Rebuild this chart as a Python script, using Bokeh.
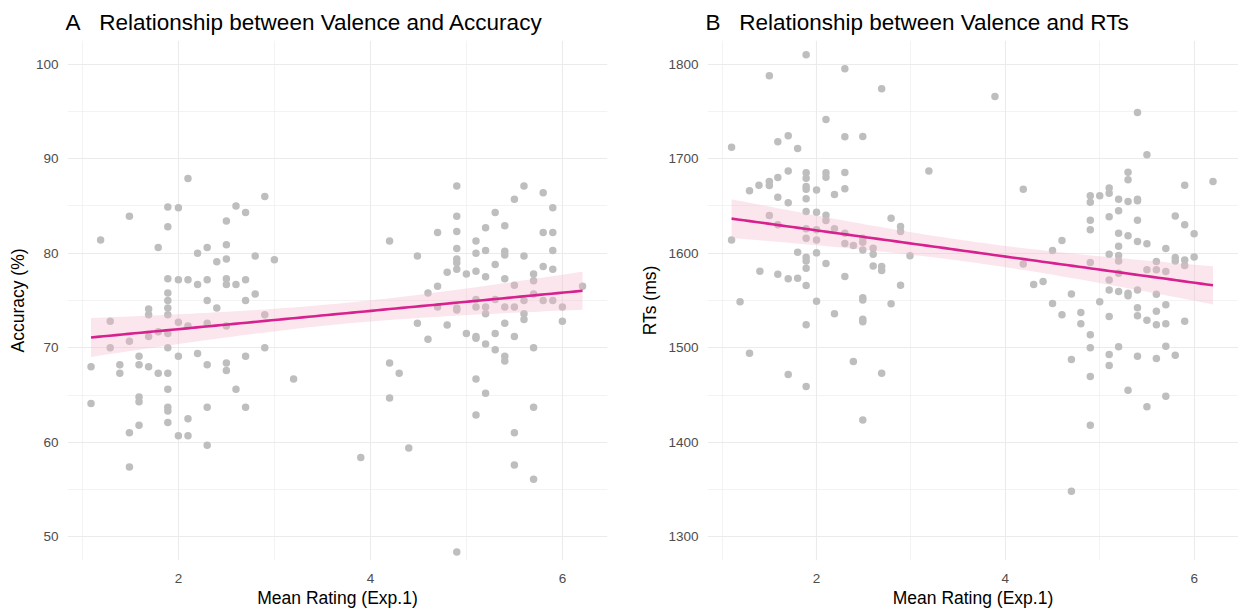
import numpy as np
from bokeh.plotting import figure
from bokeh.layouts import row
from bokeh.models import Range1d, FixedTicker
from bokeh.embed import file_html
from bokeh.resources import INLINE

# ---------------- data ----------------
acc_x = [2.10, 2.90, 1.89, 2.00, 2.60, 2.70, 1.49, 2.50, 1.89, 1.19, 1.79, 2.50, 2.30, 2.20, 2.50, 2.40,
         2.80, 3.00, 1.89, 2.00, 2.10, 2.20, 2.30, 2.50, 2.50, 2.60, 2.70,
         1.89, 1.89, 1.89, 1.89, 1.69, 1.69, 2.30, 2.40, 2.70, 2.80, 2.90, 1.29, 2.00, 2.10, 2.30, 2.50,
         1.79, 1.89, 1.69, 1.49, 1.29, 1.89, 2.90, 2.00, 2.20, 2.70, 1.09, 1.39, 1.59, 1.59, 1.69, 1.39,
         1.79, 1.89, 2.30, 2.50, 2.50, 3.20, 2.60, 1.89, 1.09, 1.59, 1.59, 1.89, 1.89, 2.30, 2.70, 2.10,
         1.89, 1.49, 1.59, 2.00, 2.10, 2.30, 1.49,
         4.90, 5.60, 5.80, 5.50, 5.90, 5.30, 4.90, 4.70, 4.90, 5.20, 5.40, 5.80, 5.90, 4.20, 5.10, 4.90,
         4.49, 5.10, 5.20, 5.40, 5.40, 5.60, 5.90, 4.90, 4.90, 4.90, 4.80, 5.00, 5.10, 5.20, 5.30, 5.80,
         5.90, 5.70, 5.70, 5.40, 5.50, 4.70, 6.21,
         4.60, 5.10, 5.30, 5.60, 5.70, 5.80, 5.90, 4.70, 4.90, 4.90, 5.10, 5.20, 5.20, 5.40, 5.50, 5.60,
         5.60, 6.00, 6.00, 4.49, 4.80, 4.60, 5.00, 5.10, 5.10, 5.20, 5.30, 5.40, 5.50, 5.30, 5.40, 5.40,
         5.70, 4.20, 4.30, 4.20, 5.10, 5.20, 5.10, 5.70, 5.50, 4.40, 3.90, 5.50, 5.70, 4.90]
acc_y = [87.9, 86.0, 84.9, 84.8, 85.0, 84.3, 83.9, 83.4, 82.8, 81.4, 80.6, 80.9, 80.6, 80.0, 79.4, 79.1,
         79.7, 79.3, 77.3, 77.2, 77.2, 76.7, 77.2, 77.3, 76.7, 76.7, 77.2,
         75.8, 75.0, 74.2, 73.5, 74.1, 73.5, 75.0, 74.2, 75.0, 75.7, 73.5, 72.8, 72.7, 72.3, 72.6, 72.3,
         71.7, 71.5, 71.2, 70.7, 70.0, 70.0, 70.0, 69.1, 69.4, 69.1, 68.0, 68.2, 69.1, 68.2, 68.0, 67.3,
         67.3, 67.3, 68.2, 68.4, 67.6, 66.7, 65.6, 65.6, 64.1, 64.8, 64.3, 63.7, 63.3, 63.7, 63.7, 62.5,
         62.1, 61.0, 61.8, 60.7, 60.7, 59.7, 57.4,
         87.1, 87.1, 86.4, 85.7, 84.8, 84.3, 83.9, 82.2, 82.3, 82.7, 82.9, 82.2, 82.2, 81.3, 81.3, 80.5,
         79.7, 80.0, 80.3, 80.2, 79.8, 79.7, 80.3, 79.4, 79.0, 78.3, 78.0, 77.8, 78.1, 77.5, 78.8, 78.6,
         78.3, 77.8, 77.1, 77.3, 76.6, 76.5, 76.5,
         75.8, 75.1, 75.1, 75.0, 75.7, 75.0, 75.0, 74.3, 74.2, 74.0, 74.3, 74.3, 73.6, 74.3, 74.3, 73.6,
         73.0, 74.3, 72.8, 72.6, 72.4, 70.9, 71.5, 71.2, 71.0, 70.4, 71.5, 72.6, 71.2, 69.8, 69.1, 68.6,
         70.0, 68.4, 67.3, 64.7, 66.7, 65.2, 62.9, 63.7, 61.0, 59.4, 58.4, 57.6, 56.1, 48.4]

rt_x = [1.89, 2.30, 1.50, 2.69, 2.10, 1.70, 1.59, 2.30, 2.49, 1.10, 1.80, 3.19, 1.70, 1.89, 1.89, 2.10,
        2.10, 2.30, 1.59, 1.50, 1.50, 1.39, 1.29, 1.89, 1.89, 2.00, 2.30, 2.19, 1.59, 1.70, 1.89, 1.89,
        2.00, 2.10, 2.10, 1.50, 1.59, 2.79, 2.89, 2.89, 1.89, 2.00, 2.19, 2.30, 1.89, 2.00, 1.10, 2.30,
        2.39, 2.49, 2.49, 2.49, 2.60, 2.60, 1.80, 2.00, 2.99, 1.89, 1.89, 2.10, 1.89, 1.40, 1.59, 2.60,
        2.69, 2.69, 1.70, 1.80, 2.30, 1.89, 2.89,
        1.19, 2.00, 2.49, 2.49, 2.79, 2.19, 1.89, 2.49, 2.49, 1.29, 2.39, 2.69, 1.70, 1.89, 2.49,
        3.89, 5.40, 5.50, 5.30, 5.30, 5.90, 6.20, 4.19, 4.90, 4.90, 5.00, 5.10, 5.10, 5.20, 5.30, 5.40,
        5.40, 5.10, 5.20, 5.40, 4.90, 4.90, 5.80, 5.90, 6.00, 5.20, 5.30, 5.40, 5.50, 5.70, 4.60, 4.50,
        5.20, 5.10, 5.20, 5.20, 5.80, 5.80, 5.90, 5.90, 6.00, 5.60, 4.19, 4.90, 5.50, 5.60, 5.70, 5.20,
        5.10, 4.30, 4.40, 5.10, 5.20, 5.30, 5.30, 5.40, 5.60, 4.70,
        4.50, 5.00, 4.60, 4.80, 4.80, 5.10, 5.40, 5.40, 5.50, 5.60, 5.60, 5.70, 5.70, 5.90, 4.90, 4.90,
        4.70, 5.10, 5.10, 5.20, 5.40, 5.60, 5.70, 5.80, 4.90, 5.30, 5.70, 5.50, 4.90, 4.70]
rt_y = [1809.9, 1795.1, 1787.7, 1773.9, 1741.5, 1724.2, 1717.8, 1723.1, 1723.5, 1712.2, 1710.8, 1687.1,
        1687.1, 1685.0, 1679.4, 1685.0, 1680.4, 1685.4, 1680.0, 1675.8, 1671.6, 1672.0, 1666.0, 1670.6,
        1667.7, 1667.0, 1668.1, 1662.1, 1659.3, 1653.3, 1657.5, 1644.1, 1643.4, 1640.2, 1634.6, 1639.9,
        1630.0, 1637.1, 1628.2, 1622.9, 1625.8, 1624.7, 1625.8, 1621.2, 1615.9, 1614.1, 1614.1, 1610.2,
        1608.1, 1615.9, 1611.7, 1603.5, 1605.3, 1599.0, 1601.1, 1600.4, 1597.2, 1595.8, 1591.9, 1589.1,
        1584.1, 1581.0, 1577.8, 1586.6, 1585.9, 1581.7, 1572.9, 1573.6, 1575.3, 1565.8, 1566.2,
        1548.6, 1549.3, 1552.8, 1550.4, 1546.5, 1535.9, 1524.3, 1530.2, 1527.4, 1494.3, 1485.5, 1473.1,
        1471.7, 1459.0, 1423.7,
        1765.8, 1748.9, 1704.1, 1685.7, 1677.6, 1672.0, 1675.8, 1667.7, 1660.7, 1654.0, 1660.7, 1669.1,
        1663.5, 1657.2, 1654.7, 1657.2, 1655.4, 1638.5, 1644.8, 1635.0, 1635.0, 1624.7, 1639.5, 1630.0,
        1620.5, 1621.2, 1618.4, 1612.4, 1609.9, 1605.0, 1613.4, 1602.8, 1607.4, 1598.9, 1597.5, 1591.9,
        1595.4, 1591.9, 1592.9, 1587.0, 1596.1, 1591.2, 1588.7, 1590.1, 1582.4, 1582.4, 1580.6, 1578.9,
        1571.8, 1566.9, 1570.0, 1561.2, 1559.5, 1557.7, 1554.9, 1561.2, 1556.6, 1556.9,
        1546.8, 1548.6, 1534.8, 1537.3, 1525.3, 1533.1, 1542.2, 1533.8, 1529.2, 1538.7, 1524.3, 1545.4,
        1525.3, 1528.1, 1513.7, 1499.9, 1487.6, 1492.9, 1481.2, 1501.0, 1491.1, 1488.6, 1501.7, 1492.2,
        1469.6, 1455.1, 1448.8, 1437.5, 1418.1, 1348.3]

x_ticks = [2, 4, 6]
x_minor = [1, 3, 5]
acc_ticks = [50, 60, 70, 80, 90, 100]
acc_minor = [55, 65, 75, 85, 95]
rt_ticks = [1300, 1400, 1500, 1600, 1700, 1800]
rt_minor = [1350, 1450, 1550, 1650, 1750]

titles = ["A\u00a0\u00a0\u00a0Relationship between Valence and Accuracy",
          "B\u00a0\u00a0\u00a0Relationship between Valence and RTs"]
x_label = "Mean Rating (Exp.1)"
y_labels = ["Accuracy (%)", "RTs (ms)"]

FONT = "Liberation Sans"
POINT = "#BEBEBE"
LINE = "#D6218E"
BAND = "#F7B6CE"


def lm_fit(x, y):
    x = np.asarray(x, float)
    y = np.asarray(y, float)
    n = len(x)
    b, a = np.polyfit(x, y, 1)
    xs = np.linspace(x.min(), x.max(), 80)
    yhat = a + b * xs
    resid = y - (a + b * x)
    s = np.sqrt(np.sum(resid ** 2) / (n - 2))
    sxx = np.sum((x - x.mean()) ** 2)
    se = s * np.sqrt(1.0 / n + (xs - x.mean()) ** 2 / sxx)
    t = 1.976
    return xs, yhat, yhat - t * se, yhat + t * se


def panel(title, xs, ys, ylabel, yr, yt, ym, width, bl, br):
    p = figure(width=width, height=610, output_backend="svg", toolbar_location=None,
               x_range=Range1d(0.845, 6.47), y_range=Range1d(*yr),
               min_border_left=bl, min_border_right=br, min_border_top=40, min_border_bottom=50)
    p.outline_line_color = None
    p.background_fill_color = "white"
    p.border_fill_color = "white"
    p.title.text = title
    p.title.text_font = FONT
    p.title.text_font_size = "22.5px"
    p.title.text_font_style = "normal"
    p.title.text_color = "black"
    p.title.align = "left"
    p.title.offset = -2
    p.title.standoff = 12

    p.xaxis.ticker = FixedTicker(ticks=x_ticks, minor_ticks=x_minor)
    p.yaxis.ticker = FixedTicker(ticks=yt, minor_ticks=ym)
    for ax in (p.xaxis, p.yaxis):
        ax.axis_line_color = None
        ax.major_tick_line_color = None
        ax.minor_tick_line_color = None
        ax.major_tick_out = 0
        ax.major_tick_in = 0
        ax.minor_tick_out = 0
        ax.minor_tick_in = 0
        ax.major_label_text_font = FONT
        ax.major_label_text_font_size = "13.5px"
        ax.major_label_text_color = "#4D4D4D"
        ax.axis_label_text_font = FONT
        ax.axis_label_text_font_size = "17.5px"
        ax.axis_label_text_font_style = "normal"
        ax.axis_label_text_color = "black"
        ax.major_label_standoff = 9
        ax.axis_label_standoff = 5
    p.xaxis.major_label_standoff = 13
    p.xaxis.axis_label_standoff = 2
    p.xaxis.axis_label = x_label
    p.yaxis.axis_label = ylabel

    for g in (p.xgrid, p.ygrid):
        g.grid_line_color = "#EBEBEB"
        g.grid_line_width = 1.1
        g.minor_grid_line_color = "#EBEBEB"
        g.minor_grid_line_width = 0.6

    p.scatter(xs, ys, size=7.5, fill_color=POINT, line_color=None)
    fx, fy, lo, hi = lm_fit(xs, ys)
    p.varea(x=fx, y1=lo, y2=hi, fill_color=BAND, fill_alpha=0.35)
    p.line(fx, fy, line_color=LINE, line_width=2.6)
    return p


p1 = panel(titles[0], acc_x, acc_y, y_labels[0], (47.5, 102.5), acc_ticks, acc_minor, 619, 67, 12)
p2 = panel(titles[1], rt_x, rt_y, y_labels[1], (1275, 1825), rt_ticks, rt_minor, 619, 88, 0)

layout = row(p1, p2)
open("out.html", "w").write(file_html(layout, INLINE))
